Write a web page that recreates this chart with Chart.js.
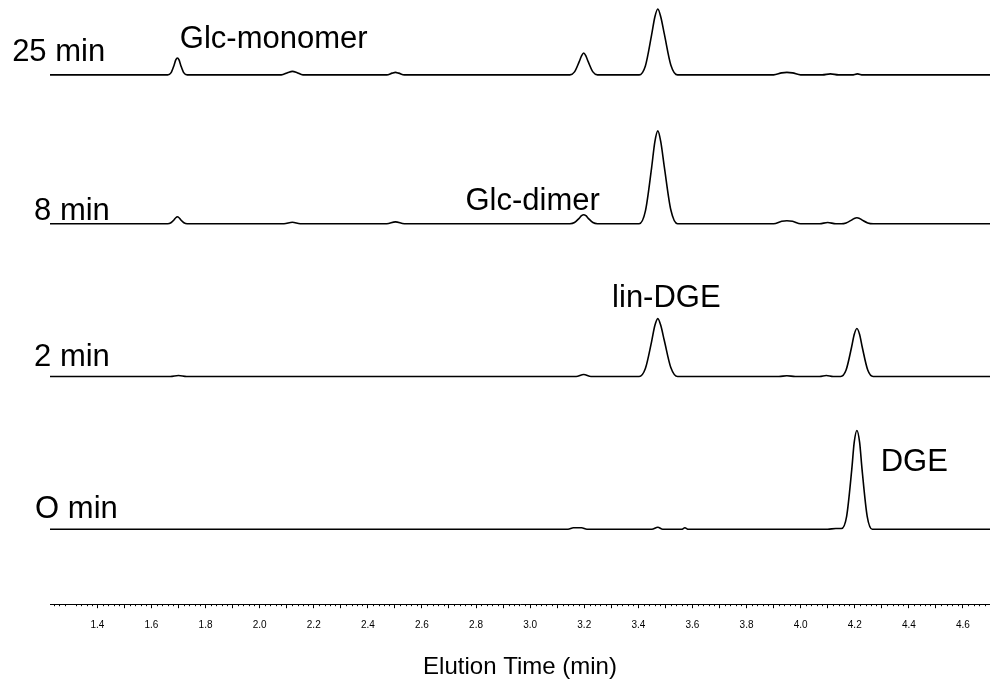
<!DOCTYPE html>
<html>
<head>
<meta charset="utf-8">
<script src="https://cdn.jsdelivr.net/npm/chart.js@4.4.1/dist/chart.umd.min.js"></script>
<style>
  html, body { margin: 0; padding: 0; background: #fff; }
  #wrap { width: 990px; height: 684px; }
</style>
</head>
<body>
<div id="wrap"><canvas id="chromChart"></canvas></div>
<script>
// chromatogram traces (time in min, signal in arbitrary units)
const trace25Time = [1.225, 1.660, 1.672, 1.684, 1.690, 1.696, 1.702, 1.708, 1.720, 1.732,
  2.080, 2.105, 2.121, 2.137, 2.160, 2.470, 2.490, 2.502, 2.514, 2.535,
  3.147, 3.164, 3.181, 3.190, 3.198, 3.206, 3.215, 3.232, 3.249,
  3.403, 3.426, 3.449, 3.461, 3.472, 3.483, 3.496, 3.520, 3.545,
  3.900, 3.930, 3.949, 3.970, 4.000, 4.080, 4.110, 4.140, 4.190, 4.210, 4.230, 4.700];
const trace25Signal = [0, 0, 2, 10, 15, 17, 15, 10, 2, 0,
  0, 2.5, 3.5, 2.5, 0, 0, 1.8, 2.5, 1.8, 0,
  0, 3, 13, 19, 22, 19, 13, 3, 0,
  0, 9, 40, 58, 66, 58, 41, 10, 0,
  0, 2, 2.5, 2, 0, 0, 1, 0, 0, 1, 0, 0];

const trace8Time = [1.225, 1.660, 1.672, 1.684, 1.690, 1.696, 1.702, 1.708, 1.720, 1.732,
  2.090, 2.121, 2.150, 2.470, 2.502, 2.535,
  3.147, 3.164, 3.181, 3.190, 3.198, 3.206, 3.215, 3.232, 3.249,
  3.403, 3.426, 3.449, 3.461, 3.472, 3.483, 3.496, 3.520, 3.545,
  3.900, 3.930, 3.949, 3.970, 4.000, 4.070, 4.100, 4.130,
  4.150, 4.168, 4.188, 4.198, 4.208, 4.218, 4.228, 4.248, 4.268, 4.700];
const trace8Signal = [0, 0, 1, 4, 6, 7, 6, 4, 1, 0,
  0, 1.5, 0, 0, 1.8, 0,
  0, 1.2, 5.4, 8, 9, 8, 5.4, 1.2, 0,
  0, 12.6, 56, 82, 93, 82, 57, 14, 0,
  0, 2.4, 3, 2.4, 0, 0, 1.2, 0,
  0, 0.8, 3.6, 5.3, 6, 5.3, 3.6, 0.8, 0, 0];

const trace2Time = [1.225, 1.670, 1.700, 1.730, 3.170, 3.198, 3.225,
  3.403, 3.426, 3.449, 3.461, 3.472, 3.483, 3.496, 3.520, 3.545,
  3.920, 3.949, 3.980, 4.070, 4.095, 4.120,
  4.148, 4.168, 4.188, 4.198, 4.208, 4.218, 4.228, 4.248, 4.268, 4.700];
const trace2Signal = [0, 0, 1, 0, 0, 2, 0,
  0, 8, 35, 51, 58, 51, 36, 9, 0,
  0, 0.8, 0, 0, 1, 0,
  0, 6.5, 29, 42, 48, 42, 29, 6.5, 0, 0];

const trace0Time = [1.225, 3.140, 3.160, 3.190, 3.210, 3.450, 3.472, 3.490,
  3.560, 3.572, 3.585, 4.100, 4.130,
  4.151, 4.170, 4.189, 4.198, 4.208, 4.218, 4.227, 4.246, 4.265, 4.700];
const trace0Signal = [0, 0, 1.5, 1.5, 0, 0, 2, 0,
  0, 1.5, 0, 0, 0.8,
  0.8, 13, 60, 87, 99, 87, 60, 13, 0, 0];

const traceNames = ['25 min', '8 min', '2 min', 'O min'];
const traceOffsets = [530, 381, 228, 75];

const xTicksMin = 1.225;
const xTicksMax = 4.70;

// text annotations: [text, time, signal]
const annotations = [
  ['25 min', 1.085, 544],
  ['8 min', 1.166, 385],
  ['2 min', 1.166, 239],
  ['O min', 1.170, 86],
  ['Glc-monomer', 1.705, 557],
  ['Glc-dimer', 2.761, 395],
  ['lin-DGE', 3.303, 298],
  ['DGE', 4.296, 133]
];

const fontFamily = '"Liberation Sans", Arial, sans-serif';

const traceTimes = [trace25Time, trace8Time, trace2Time, trace0Time];
const traceSignals = [trace25Signal, trace8Signal, trace2Signal, trace0Signal];

const datasets = traceNames.map((name, i) => ({
  label: name,
  data: traceTimes[i].map((t, j) => ({ x: t, y: traceSignals[i][j] + traceOffsets[i] })),
  borderColor: '#000',
  borderWidth: 1.6,
  pointRadius: 0,
  fill: false,
  cubicInterpolationMode: 'monotone'
}));

// small ticks every 0.02 min
const minorTicks = {
  id: 'minorTicks',
  afterDraw(chart) {
    const xs = chart.scales.x;
    const ctx = chart.ctx;
    ctx.save();
    ctx.strokeStyle = '#000';
    ctx.lineWidth = 1;
    ctx.beginPath();
    for (let i = Math.ceil(xs.min / 0.02); i * 0.02 <= xs.max + 1e-9; i++) {
      if (i % 5 === 0) continue;
      const px = Math.round(xs.getPixelForValue(i * 0.02)) + 0.5;
      ctx.moveTo(px, xs.top);
      ctx.lineTo(px, xs.top + 2);
    }
    ctx.stroke();
    ctx.restore();
  }
};

// trace names and peak names
const textLabels = {
  id: 'textLabels',
  afterDatasetsDraw(chart) {
    const { ctx, scales: { x, y } } = chart;
    ctx.save();
    ctx.font = '31px ' + fontFamily;
    ctx.fillStyle = '#000';
    ctx.textAlign = 'left';
    ctx.textBaseline = 'alphabetic';
    annotations.forEach(a => {
      ctx.fillText(a[0], x.getPixelForValue(a[1]), y.getPixelForValue(a[2]));
    });
    ctx.restore();
  }
};

const chromChart = new Chart(document.getElementById('chromChart').getContext('2d'), {
  type: 'line',
  data: { datasets: datasets },
  options: {
    responsive: true,
    maintainAspectRatio: false,
    animation: false,
    layout: { padding: { left: 50, right: 0, top: 5, bottom: 0 } },
    plugins: {
      legend: { display: false },
      tooltip: { enabled: false }
    },
    scales: {
      x: {
        type: 'linear',
        min: xTicksMin,
        max: xTicksMax,
        border: { display: true, color: '#000', width: 1 },
        grid: { display: true, drawOnChartArea: false, drawTicks: true, tickLength: 4, color: '#000' },
        afterBuildTicks: (scale) => {
          scale.ticks = scale.ticks.filter(t =>
            Math.abs(t.value * 10 - Math.round(t.value * 10)) < 1e-6 && t.value < xTicksMax - 0.05);
        },
        ticks: {
          stepSize: 0.1,
          autoSkip: false,
          maxRotation: 0,
          padding: 11,
          color: '#000',
          font: { family: fontFamily, size: 10 },
          callback: (v) => (Math.round(v * 10) % 2 === 0 ? v.toFixed(1) : '')
        },
        title: {
          display: true,
          text: 'Elution Time (min)',
          color: '#000',
          font: { family: fontFamily, size: 24 },
          padding: { top: 11, bottom: 2 }
        }
      },
      y: {
        display: false,
        min: 0,
        max: 600
      }
    }
  },
  plugins: [minorTicks, textLabels]
});
</script>
</body>
</html>
